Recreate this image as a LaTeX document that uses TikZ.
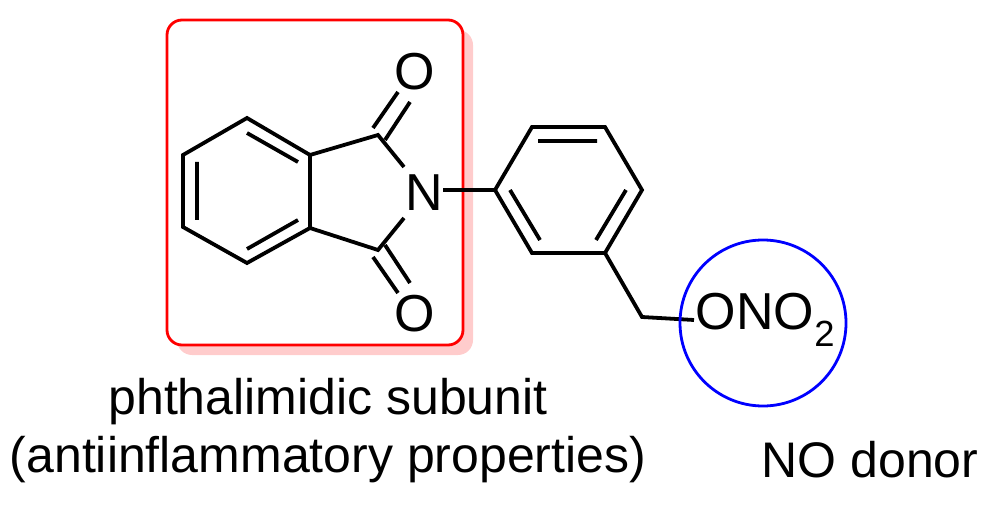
\documentclass[tikz,border=0pt]{standalone}
\usepackage{fontspec}
\setmainfont{Liberation Sans}
\begin{document}
\begin{tikzpicture}[x=1pt,y=-1pt,line width=3.8pt,line join=miter,
  atom/.style={inner sep=0pt,font=\fontsize{52}{58}\selectfont},
  lbl/.style={inner sep=0pt,font=\fontsize{50}{56}\selectfont}]
\useasboundingbox (0,0) rectangle (1000,510);
% box with shadow
\fill[red!20,rounded corners=15pt] (177,30) rectangle (473,355);
\draw[red,line width=2.8pt,fill=white,rounded corners=15pt] (167,20) rectangle (463,345);
% left ring
\coordinate (a1) at (247,118); \coordinate (a2) at (310,155); \coordinate (a3) at (310,228);
\coordinate (a4) at (247,263); \coordinate (a5) at (183,227); \coordinate (a6) at (183,155);
\draw (a1)--(a2)--(a3)--(a4)--(a5)--(a6)--cycle;
\draw (247,133)--(298,162) (197,162)--(197,220) (247,249)--(298,220);
\coordinate (c1) at (378,135); \coordinate (c2) at (378,250);
\node[atom] (N) at (424,193) {N};
\node[atom] (O1) at (415,72) {O};
\node[atom] (O2) at (415,314) {O};
\draw (a2)--(c1)--(404,167);
\draw (a3)--(c2)--(404,218);
\draw (373,128)--(398,92) (385,140)--(410,102);
\draw (373,257)--(398,293) (385,245)--(410,283);
% right ring
\coordinate (b1) at (495,190); \coordinate (b2) at (532,127); \coordinate (b3) at (605,127);
\coordinate (b4) at (642,190); \coordinate (b5) at (605,253); \coordinate (b6) at (532,253);
\draw (443,190)--(b1);
\draw (b1)--(b2)--(b3)--(b4)--(b5)--(b6)--cycle;
\draw (538,141)--(597,141) (510,190)--(540,240) (626,190)--(596,240);
\coordinate (ch) at (642,317);
\node[atom,anchor=west] (ono) at (694,320) {ONO\textsubscript{2}};
\draw (b5)--(ch)--(ono.west);
\node[draw=blue,line width=2.8pt,circle,minimum size=166pt,inner sep=0pt] (circ) at (763,323) {};
% labels
\node[lbl] (l1) at (328,402) {phthalimidic subunit};
\node[lbl] (l2) at (328,460) {(antiinflammatory properties)};
\node[lbl] (l3) at (870,460) {NO donor};
\end{tikzpicture}
\end{document}
